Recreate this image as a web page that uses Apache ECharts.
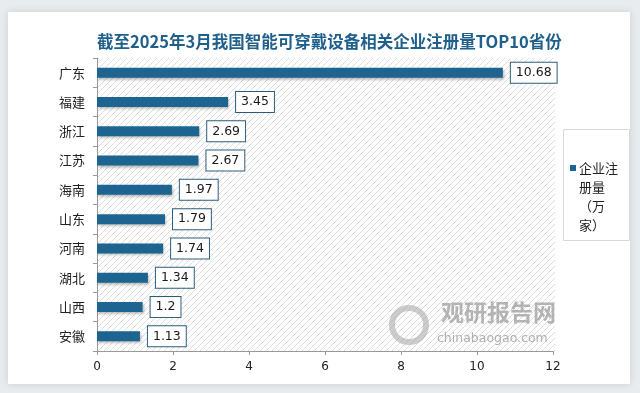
<!DOCTYPE html>
<html><head><meta charset="utf-8">
<script src="https://cdn.jsdelivr.net/npm/echarts@6/dist/echarts.min.js"></script>
<style>html,body{margin:0;padding:0;background:#e9ecef;}#c{width:640px;height:393px;}</style>
</head><body><div id="c"></div>
<script>
const categories = ['广东','福建','浙江','江苏','海南','山东','河南','湖北','山西','安徽'];
const values = [10.68, 3.45, 2.69, 2.67, 1.97, 1.79, 1.74, 1.34, 1.2, 1.13];
const xTicks = [0, 2, 4, 6, 8, 10, 12];
const seriesName = '企业注册量（万家）';
const legendLines = ['企业注', '册量', '（万', '家）'];
const titleText = '截至2025年3月我国智能可穿戴设备相关企业注册量TOP10省份';
const barColor = '#1d6490';

function hatch() {
  const c = document.createElement('canvas');
  c.width = 6; c.height = 6;
  const g = c.getContext('2d');
  g.fillStyle = '#ffffff'; g.fillRect(0,0,6,6);
  g.strokeStyle = '#dcdcdc'; g.lineWidth = 1;
  g.beginPath();
  g.moveTo(0,6); g.lineTo(6,0);
  g.moveTo(-3,3); g.lineTo(3,-3);
  g.moveTo(3,9); g.lineTo(9,3);
  g.stroke();
  return c;
}

const chart = echarts.init(document.getElementById('c'), null, {renderer:'canvas'});
chart.setOption({
  backgroundColor: 'transparent',
  animation: false,
  graphic: [
    {type:'rect', left:8, top:12, shape:{width:622, height:372}, z:-10,
     style:{fill:'#ffffff', shadowColor:'rgba(0,0,0,0.12)', shadowBlur:8}},
    {type:'rect', left:97, top:58, shape:{width:458, height:293}, z:-5,
     style:{fill:{image:hatch(), repeat:'repeat'}}},
    {type:'text', left:441, top:301, z:5,
     style:{text:'观研报告网', fill:'rgba(150,150,150,0.7)', font:'bold 23px "Noto Sans CJK SC"'}},
    {type:'text', left:437, top:332, z:5,
     style:{text:'chinabaogao.com', fill:'rgba(150,150,150,0.75)', font:'12.5px "DejaVu Sans"'}},
    {type:'circle', left:389, top:305, shape:{r:17}, z:5,
     style:{fill:'none', stroke:'rgba(170,170,170,0.6)', lineWidth:6}},
    {type:'rect', left:563, top:129, shape:{width:66, height:111}, z:10,
     style:{fill:'#ffffff', stroke:'#d8d8d8', lineWidth:1}},
    {type:'rect', left:570, top:165, shape:{width:6, height:6}, z:11,
     style:{fill:barColor}},
    {type:'text', left:579, top:159, z:11,
     style:{text:legendLines.join('\n'), fill:'#222', font:'13px "Noto Sans CJK SC"', lineHeight:19}}
  ],
  title: {
    text: titleText, left: 92, top: 28,
    textStyle: {color:'#1f5f8b', fontSize:16.5, fontWeight:'bold', fontFamily:'"Noto Sans CJK SC"'}
  },
  legend: {show:false, data:[seriesName]},
  grid: {left:97, right:87, top:58, bottom:42, containLabel:false},
  xAxis: {
    type:'value', min:0, max:12, interval:2,
    axisLine:{show:true, lineStyle:{color:'#999'}},
    axisTick:{show:true, length:4, lineStyle:{color:'#999'}},
    splitLine:{show:false},
    axisLabel:{color:'#222', fontSize:12, margin:10, fontFamily:'"DejaVu Sans"',
      formatter: v => xTicks.includes(v) ? String(v) : ''}
  },
  yAxis: {
    type:'category', data:categories, inverse:true,
    axisLine:{show:true, lineStyle:{color:'#999'}},
    axisTick:{show:true, length:4, inside:false, lineStyle:{color:'#999'}},
    axisLabel:{color:'#222', fontSize:13, margin:12, fontFamily:'"Noto Sans CJK SC"'}
  },
  series: [{
    name: seriesName, type:'bar', data: values, barWidth:10,
    itemStyle:{color:barColor, shadowColor:'rgba(0,0,0,0.3)', shadowBlur:3, shadowOffsetY:2, shadowOffsetX:1},
    label:{show:true, position:'right', distance:8, color:'#1a1a1a', fontSize:12.5,
      fontFamily:'"DejaVu Sans"',
      backgroundColor:'#ffffff', borderColor:'#2c5c7c', borderWidth:1, padding:[4,5,3,5]}
  }]
});
</script></body></html>
